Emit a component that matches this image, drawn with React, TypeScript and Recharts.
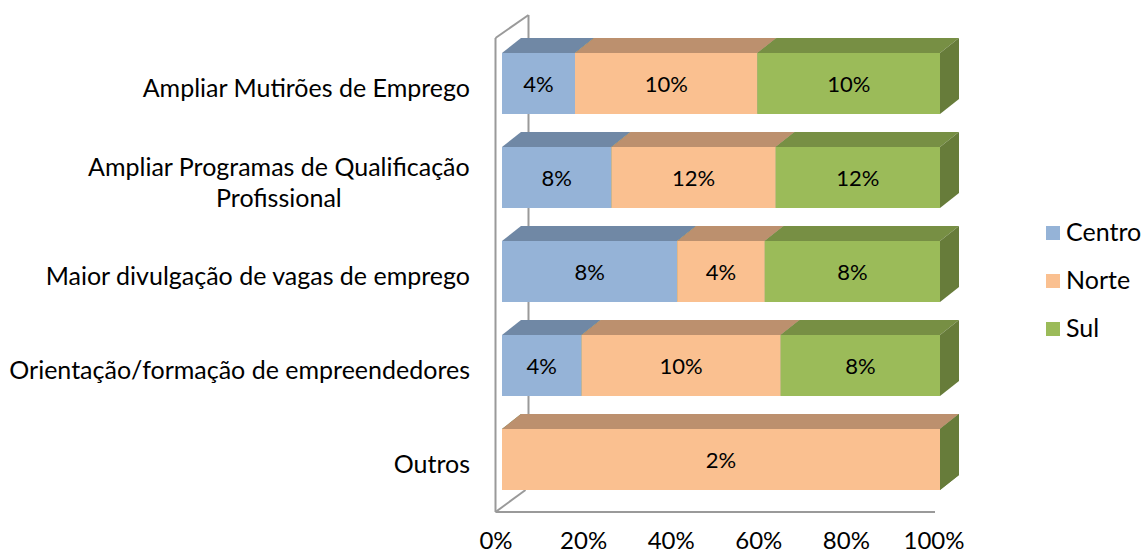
import React from 'react';
import { BarChart, Bar, XAxis, YAxis, LabelList } from 'recharts';

// ---------- data ----------
const categories = [
  'Ampliar Mutirões de Emprego',
  'Ampliar Programas de Qualificação\nProfissional',
  'Maior divulgação de vagas de emprego',
  'Orientação/formação de empreendedores',
  'Outros',
];
const seriesNames = ['Centro', 'Norte', 'Sul'];
const centroValues = [4, 8, 8, 4, 0];
const norteValues = [10, 12, 4, 10, 2];
const sulValues = [10, 12, 8, 8, 0];
const xTicks = [0, 0.2, 0.4, 0.6, 0.8, 1];
const xTickLabels = ['0%', '20%', '40%', '60%', '80%', '100%'];

// ---------- style ----------
const W = 1144;
const H = 554;
const FONT = 'Lato, "Open Sans", sans-serif';
const CAT_FS = 25;
const TICK_FS = 24;
const LABEL_FS = 22;
const MARGIN = { top: 36, right: 204, bottom: 18, left: 0 };
const Y_AXIS_W = 502;
const X_AXIS_H = 30;
const DX = 19;
const DY = 15;
const SIDE = '#677C3A';
const colors: Record<string, { front: string; top: string }> = {
  Centro: { front: '#95B3D7', top: '#7088A5' },
  Norte: { front: '#FAC090', top: '#BC906E' },
  Sul: { front: '#9BBB59', top: '#778F44' },
};
const WALL = '#9A9A9A';

const data = categories.map((c, i) => ({
  category: c,
  Centro: centroValues[i],
  Norte: norteValues[i],
  Sul: sulValues[i],
}));

let measureCtx: CanvasRenderingContext2D | null = null;
function measure(text: string, fs: number) {
  if (!measureCtx) {
    const c = document.createElement('canvas');
    measureCtx = c.getContext('2d');
  }
  if (!measureCtx) return text.length * fs * 0.5;
  measureCtx.font = `${fs}px Lato`;
  return measureCtx.measureText(text).width;
}

const makeShape = (name: string) => (props: any) => {
  const { x, y, width, height } = props;
  if (width == null || height == null || isNaN(x) || isNaN(y)) return <g />;
  const c = colors[name];
  const w = Math.max(0, width);
  return (
    <g>
      <rect x={x} y={y} width={w} height={height} fill={c.front} />
      <polygon
        points={`${x},${y} ${x + DX},${y - DY} ${x + w + DX},${y - DY} ${x + w},${y}`}
        fill={c.top}
      />
      <polygon
        points={`${x + w},${y} ${x + w + DX},${y - DY} ${x + w + DX},${y + height - DY} ${x + w},${y + height}`}
        fill={SIDE}
      />
    </g>
  );
};

const renderLabel = (props: any) => {
  const { x, y, width, height, value } = props;
  if (!value) return null;
  return (
    <text
      x={x + width / 2}
      y={y + height / 2 + 8.5}
      textAnchor="middle"
      fontFamily={FONT}
      fontSize={LABEL_FS}
      fill="#000"
    >
      {`${value}%`}
    </text>
  );
};

const CategoryTick = (props: any) => {
  const { x, y, payload } = props;
  const lines = String(payload.value).split('\n');
  if (lines.length === 1) {
    return (
      <text x={x} y={y + 13.5} textAnchor="end" fontFamily={FONT} fontSize={CAT_FS} fill="#000">
        {lines[0]}
      </text>
    );
  }
  const w0 = measure(lines[0], CAT_FS);
  const cx = x - w0 / 2;
  return (
    <g>
      {lines.map((l, i) => (
        <text
          key={i}
          x={cx}
          y={y - 1.5 + i * 31}
          textAnchor="middle"
          fontFamily={FONT}
          fontSize={CAT_FS}
          fill="#000"
        >
          {l}
        </text>
      ))}
    </g>
  );
};

const PercentTick = (props: any) => {
  const { x, y, payload, index } = props;
  const label = xTickLabels[index] ?? `${Math.round(payload.value * 100)}%`;
  return (
    <text x={x - 6} y={y + 35} textAnchor="middle" fontFamily={FONT} fontSize={TICK_FS} fill="#000">
      {label}
    </text>
  );
};

export default function App() {
  const plotLeft = MARGIN.left + Y_AXIS_W;
  const plotRight = W - MARGIN.right;
  const plotBottom = H - MARGIN.bottom - X_AXIS_H;
  const frontX = plotLeft - 6.5;
  const backX = frontX + 33;
  const floorY = plotBottom + 6;
  const wallTop = 38;
  return (
    <div style={{ position: 'absolute', left: 0, top: 0, width: W, height: H, background: '#fff' }}>
      <svg width={W} height={H} style={{ position: 'absolute', left: 0, top: 0 }}>
        <g stroke={WALL} strokeWidth={2} fill="none">
          <line x1={frontX} y1={wallTop} x2={frontX} y2={floorY} />
          <line x1={frontX} y1={wallTop} x2={backX} y2={wallTop - 23} />
          <line x1={backX} y1={wallTop - 23} x2={backX} y2={floorY - 22} />
          <line x1={frontX} y1={floorY} x2={backX - 3} y2={floorY - 22} />
          <line x1={frontX} y1={floorY} x2={plotRight - 5} y2={floorY} />
        </g>
        {seriesNames.map((s, i) => (
          <g key={s}>
            <rect x={1046} y={226 + i * 48} width={14} height={14} fill={colors[s].front} />
            <text x={1066} y={241 + i * 48} fontFamily={FONT} fontSize={CAT_FS} fill="#000">
              {s}
            </text>
          </g>
        ))}
      </svg>
      <div style={{ position: 'absolute', left: 0, top: 0 }}>
        <BarChart
          width={W}
          height={H}
          data={data}
          layout="vertical"
          stackOffset="expand"
          margin={MARGIN}
          barSize={61}
        >
          <XAxis
            type="number"
            domain={[0, 1]}
            ticks={xTicks}
            axisLine={false}
            tickLine={false}
            height={X_AXIS_H}
            tick={<PercentTick />}
            interval={0}
          />
          <YAxis
            type="category"
            dataKey="category"
            width={Y_AXIS_W}
            axisLine={false}
            tickLine={false}
            tickSize={0}
            tickMargin={32}
            tick={<CategoryTick />}
            interval={0}
          />
          {seriesNames.map((s) => (
            <Bar
              key={s}
              dataKey={s}
              stackId="a"
              fill={colors[s].front}
              isAnimationActive={false}
              shape={makeShape(s)}
            >
              <LabelList dataKey={s} content={renderLabel} />
            </Bar>
          ))}
        </BarChart>
      </div>
    </div>
  );
}
